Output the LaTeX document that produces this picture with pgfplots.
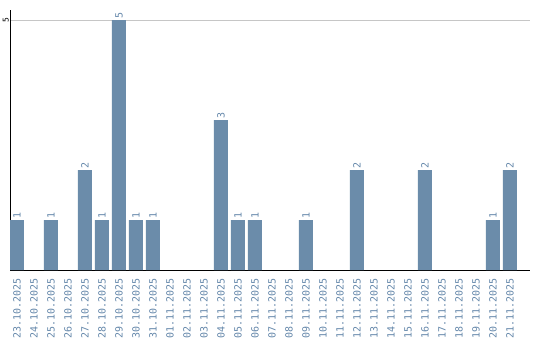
\documentclass[border=0pt]{standalone}
\usepackage{pgfplots}
\pgfplotsset{compat=1.18}
\usepackage{fontspec}
\setmainfont{DejaVu Sans Mono}
\definecolor{barc}{RGB}{107,140,170}
\definecolor{labc}{RGB}{100,135,170}
\begin{document}
\begin{tikzpicture}[x=1bp,y=1bp]
\useasboundingbox (-10bp,-70bp) rectangle (530bp,270bp);
\begin{axis}[
  at={(0,0)}, anchor=south west,
  scale only axis, width=520bp, height=260bp,
  xmin=-0.41, xmax=30.18, ymin=0, ymax=5.2,
  axis x line*=bottom, axis y line*=left,
  axis line style={-, black, line width=0.8pt},
  ybar, bar width=14bp, bar shift=0pt,
  xtick={0,...,29},
  xticklabels={23.10.2025,24.10.2025,25.10.2025,26.10.2025,27.10.2025,28.10.2025,29.10.2025,30.10.2025,31.10.2025,01.11.2025,02.11.2025,03.11.2025,04.11.2025,05.11.2025,06.11.2025,07.11.2025,08.11.2025,09.11.2025,10.11.2025,11.11.2025,12.11.2025,13.11.2025,14.11.2025,15.11.2025,16.11.2025,17.11.2025,18.11.2025,19.11.2025,20.11.2025,21.11.2025},
  xticklabel style={rotate=90, anchor=east, font=\fontsize{10}{10}\selectfont, text=labc, inner sep=1bp, xshift=-3bp},
  major x tick style={draw=none},
  ytick={5},
  yticklabel style={rotate=90, anchor=south, font=\fontsize{8}{8}\selectfont, text=black, inner sep=1bp},
  /pgf/number format/assume math mode=true,
  major y tick style={draw=none},
  ymajorgrids, grid style={gray!45, line width=0.8pt},
  nodes near coords,
  every node near coord/.append style={rotate=90, anchor=west, font=\fontsize{10}{10}\selectfont, text=labc, inner sep=1bp},
]
\addplot[fill=barc, draw=none] coordinates {
(0,1) (2,1) (4,2) (5,1) (6,5) (7,1) (8,1) (12,3) (13,1) (14,1) (17,1) (20,2) (24,2) (28,1) (29,2)
};
\end{axis}
\end{tikzpicture}
\end{document}
